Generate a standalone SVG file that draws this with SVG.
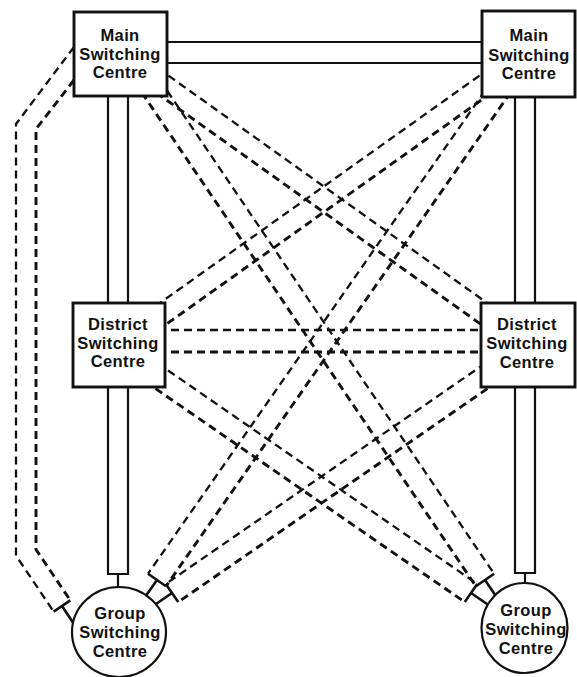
<svg xmlns="http://www.w3.org/2000/svg" width="577" height="677" viewBox="0 0 577 677">
<style>
.s{fill:none;stroke:#111;stroke-width:2.2}
.d1{fill:none;stroke:#111;stroke-width:2.3;stroke-dasharray:8 5}
.d2{fill:none;stroke:#111;stroke-width:2.9;stroke-dasharray:8 5}
.cap{fill:none;stroke:#111;stroke-width:2.6}
.box{fill:#fff;stroke:#111;stroke-width:2.9}
.circ{fill:#fff;stroke:#111;stroke-width:2.2}
text{font-family:"Liberation Sans",Arial,Helvetica,sans-serif;font-weight:bold;font-size:16.5px;letter-spacing:0.4px;text-anchor:middle;fill:#111}
</style>
<rect width="577" height="677" fill="#fff"/>
<g id="connectors">
  <path class="s" d="M120,42 H528 M120,63 H528"/>
  <path class="s" d="M108,54 V574 H128 V54 M118,574 V600"/>
  <path class="s" d="M515,54 V573 H535 V54 M525,573 V600"/>
  <path class="d1" d="M126.1,45.45 L534.1,336.45"/>
  <path class="d2" d="M113.9,62.55 L521.9,353.55"/>
  <path class="d1" d="M521.9,45.45 L112.9,336.45"/>
  <path class="d2" d="M534.1,62.55 L125.1,353.55"/>
  <path class="d1" d="M119,330 H528"/>
  <path class="d2" d="M119,352 H528"/>
  <path class="d2" d="M119.9,60.2 L475.9,586.2"/>
  <path class="d1" d="M138.1,47.8 L494.1,573.8"/>
  <path class="cap" d="M475.9,586.2 L494.1,573.8 M485,580 L501.8,604.8"/>
  <path class="d1" d="M515,47.7 L148,573.7"/>
  <path class="d2" d="M533,60.3 L166,586.3"/>
  <path class="cap" d="M148,573.7 L166,586.3 M157,580 L139.8,604.6"/>
  <path class="d2" d="M112.75,359.05 L464.75,602.05"/>
  <path class="d1" d="M125.25,340.95 L477.25,583.95"/>
  <path class="cap" d="M464.75,602.05 L477.25,583.95 M471,593 L495.7,610"/>
  <path class="d1" d="M517.75,340.95 L165.75,583.95"/>
  <path class="d2" d="M530.25,359.05 L178.25,602.05"/>
  <path class="cap" d="M165.75,583.95 L178.25,602.05 M172,593 L147.3,610"/>
  <path class="d1" d="M74,47 L16,124 V555.6 L53.7,611.6"/>
  <path class="d2" d="M74,80 L36,129 V549.5 L70.3,600.4"/>
  <path class="cap" d="M53.7,611.6 L70.3,600.4 M62,606 L76,627"/>
</g>
<g id="main-left">
  <rect class="box" x="74" y="12" width="93" height="84"/>
  <text x="120" y="41">Main</text>
  <text x="120" y="60">Switching</text>
  <text x="120" y="78">Centre</text>
</g>
<g id="main-right">
  <rect class="box" x="482" y="11" width="93" height="86"/>
  <text x="529" y="41">Main</text>
  <text x="529" y="61">Switching</text>
  <text x="529" y="79">Centre</text>
</g>
<g id="district-left">
  <rect class="box" x="73" y="303" width="92" height="84"/>
  <text x="118" y="330">District</text>
  <text x="118" y="349">Switching</text>
  <text x="118" y="367">Centre</text>
</g>
<g id="district-right">
  <rect class="box" x="481" y="303" width="94" height="84"/>
  <text x="527" y="330">District</text>
  <text x="527" y="349">Switching</text>
  <text x="527" y="368">Centre</text>
</g>
<g id="group-left">
  <ellipse class="circ" cx="119" cy="632" rx="47" ry="45"/>
  <text x="120" y="619">Group</text>
  <text x="120" y="638">Switching</text>
  <text x="120" y="657">Centre</text>
</g>
<g id="group-right">
  <ellipse class="circ" cx="524.5" cy="628" rx="43" ry="45"/>
  <text x="526" y="616">Group</text>
  <text x="526" y="635">Switching</text>
  <text x="526" y="654">Centre</text>
</g>
</svg>
